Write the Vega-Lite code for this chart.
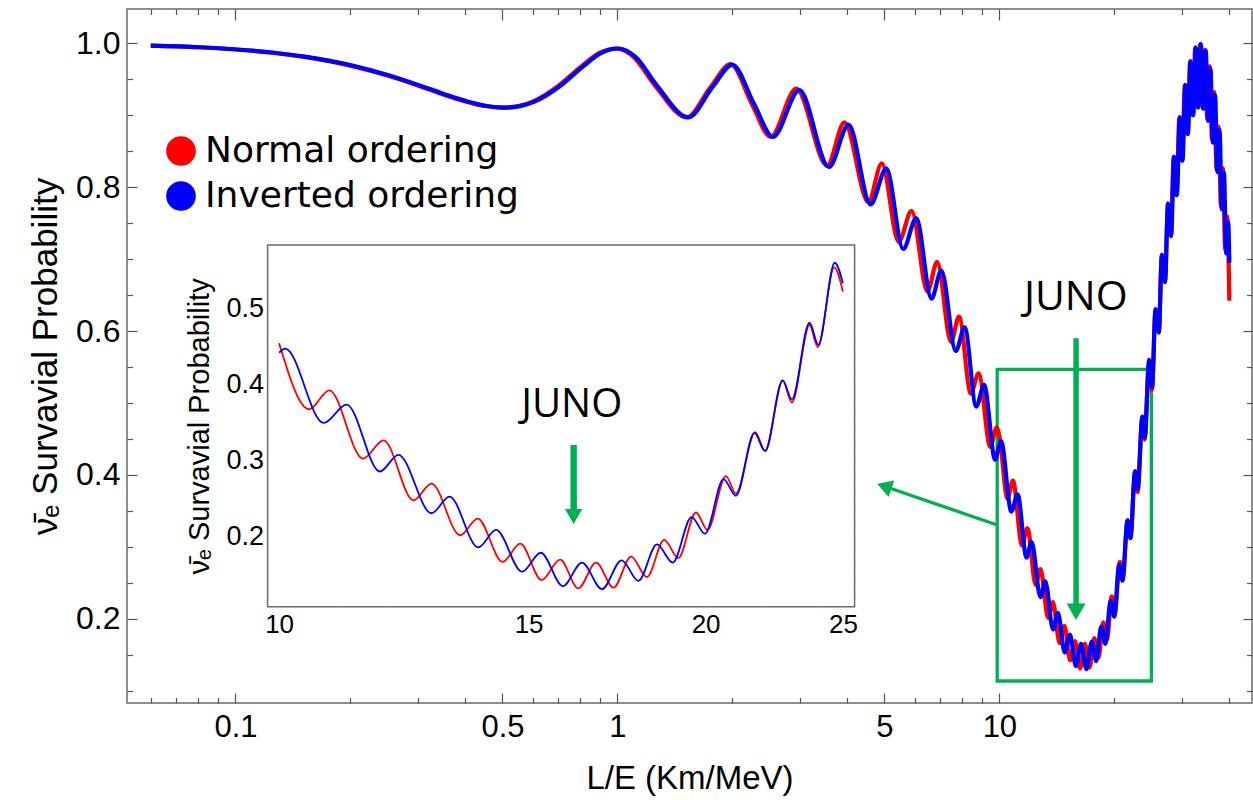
{
  "$schema": "https://vega.github.io/schema/vega-lite/v6.json",
  "width": 1125,
  "height": 694,
  "autosize": "none",
  "padding": {"left": 127, "top": 9, "right": 1, "bottom": 97},
  "background": "white",
  "config": {
    "view": {"stroke": "#6a6a6a", "strokeWidth": 1.5},
    "axis": {"grid": false, "domain": false, "tickColor": "#555555", "tickWidth": 1.2, "labelColor": "#000000", "labelFont": "Liberation Sans", "titleFont": "Liberation Sans", "titleFontWeight": "normal", "titleColor": "#000000", "labelFlush": false, "labelOverlap": false, "labelBound": false}
  },
  "datasets": {
    "curve": [
      {"le":0.06,"p":0.9967,"o":"N"},{"le":0.08,"p":0.9945,"o":"N"},{"le":0.1,"p":0.9914,"o":"N"},{"le":0.125,"p":0.9869,"o":"N"},{"le":0.15,"p":0.9815,"o":"N"},{"le":0.2,"p":0.969,"o":"N"},{"le":0.25,"p":0.9552,"o":"N"},{"le":0.3,"p":0.9414,"o":"N"},{"le":0.35,"p":0.9289,"o":"N"},{"le":0.4,"p":0.9191,"o":"N"},{"le":0.45,"p":0.9128,"o":"N"},{"le":0.5,"p":0.9106,"o":"N"},{"le":0.55,"p":0.9127,"o":"N"},{"le":0.6,"p":0.919,"o":"N"},{"le":0.7,"p":0.9407,"o":"N"},{"le":0.8,"p":0.9669,"o":"N"},{"le":0.9,"p":0.987,"o":"N"},{"le":0.995,"p":0.9928,"o":"N"},{"le":1.1,"p":0.9813,"o":"N"},{"le":1.25,"p":0.9423,"o":"N"},{"le":1.52,"p":0.897,"o":"N"},{"le":1.75,"p":0.9384,"o":"N"},{"le":1.98,"p":0.971,"o":"N"},{"le":2.25,"p":0.9154,"o":"N"},{"le":2.52,"p":0.87,"o":"N"},{"le":2.94,"p":0.937,"o":"N"},{"le":3.54,"p":0.83,"o":"N"},{"le":3.93,"p":0.89,"o":"N"},{"le":4.54,"p":0.779,"o":"N"},{"le":4.92,"p":0.833,"o":"N"},{"le":5.45,"p":0.724,"o":"N"},{"le":5.89,"p":0.767,"o":"N"},{"le":6.48,"p":0.655,"o":"N"},{"le":6.87,"p":0.696,"o":"N"},{"le":7.47,"p":0.585,"o":"N"},{"le":7.84,"p":0.62,"o":"N"},{"le":8.42,"p":0.513,"o":"N"},{"le":8.82,"p":0.541,"o":"N"},{"le":9.47,"p":0.439,"o":"N"},{"le":9.84,"p":0.466,"o":"N"},{"le":10,"p":0.454,"o":"N"},{"le":10.5,"p":0.367,"o":"N"},{"le":10.85,"p":0.392,"o":"N"},{"le":11.46,"p":0.302,"o":"N"},{"le":11.85,"p":0.326,"o":"N"},{"le":12.44,"p":0.247,"o":"N"},{"le":12.81,"p":0.269,"o":"N"},{"le":13.42,"p":0.201,"o":"N"},{"le":13.81,"p":0.223,"o":"N"},{"le":14.38,"p":0.166,"o":"N"},{"le":14.8,"p":0.19,"o":"N"},{"le":15.32,"p":0.142,"o":"N"},{"le":15.79,"p":0.169,"o":"N"},{"le":16.26,"p":0.131,"o":"N"},{"le":16.74,"p":0.165,"o":"N"},{"le":17.22,"p":0.132,"o":"N"},{"le":17.72,"p":0.173,"o":"N"},{"le":18.18,"p":0.146,"o":"N"},{"le":18.7,"p":0.195,"o":"N"},{"le":19.13,"p":0.171,"o":"N"},{"le":19.69,"p":0.231,"o":"N"},{"le":20.06,"p":0.208,"o":"N"},{"le":20.67,"p":0.279,"o":"N"},{"le":21.01,"p":0.256,"o":"N"},{"le":21.68,"p":0.337,"o":"N"},{"le":22.03,"p":0.312,"o":"N"},{"le":22.67,"p":0.405,"o":"N"},{"le":23.01,"p":0.376,"o":"N"},{"le":23.68,"p":0.478,"o":"N"},{"le":24,"p":0.449,"o":"N"},{"le":24.65,"p":0.554,"o":"N"},{"le":25,"p":0.522,"o":"N"},{"le":25.1,"p":0.518,"o":"N"},{"le":25.64,"p":0.63,"o":"N"},{"le":26.14,"p":0.598,"o":"N"},{"le":26.63,"p":0.706,"o":"N"},{"le":27.13,"p":0.668,"o":"N"},{"le":27.62,"p":0.777,"o":"N"},{"le":28.12,"p":0.732,"o":"N"},{"le":28.61,"p":0.842,"o":"N"},{"le":29.1,"p":0.789,"o":"N"},{"le":29.6,"p":0.897,"o":"N"},{"le":30.09,"p":0.837,"o":"N"},{"le":30.59,"p":0.942,"o":"N"},{"le":31.08,"p":0.874,"o":"N"},{"le":31.58,"p":0.975,"o":"N"},{"le":32.07,"p":0.9,"o":"N"},{"le":32.56,"p":0.994,"o":"N"},{"le":33.06,"p":0.911,"o":"N"},{"le":33.55,"p":0.999,"o":"N"},{"le":34.05,"p":0.91,"o":"N"},{"le":34.54,"p":0.991,"o":"N"},{"le":35.04,"p":0.894,"o":"N"},{"le":35.53,"p":0.968,"o":"N"},{"le":36.03,"p":0.866,"o":"N"},{"le":36.52,"p":0.932,"o":"N"},{"le":37.02,"p":0.825,"o":"N"},{"le":37.51,"p":0.884,"o":"N"},{"le":38.01,"p":0.774,"o":"N"},{"le":38.5,"p":0.826,"o":"N"},{"le":39,"p":0.714,"o":"N"},{"le":39.49,"p":0.759,"o":"N"},{"le":40,"p":0.642,"o":"N"},
      {"le":0.06,"p":0.9967,"o":"I"},{"le":0.0809,"p":0.9945,"o":"I"},{"le":0.1012,"p":0.9914,"o":"I"},{"le":0.1264,"p":0.9869,"o":"I"},{"le":0.1517,"p":0.9815,"o":"I"},{"le":0.2023,"p":0.969,"o":"I"},{"le":0.2529,"p":0.9552,"o":"I"},{"le":0.3035,"p":0.9414,"o":"I"},{"le":0.354,"p":0.9289,"o":"I"},{"le":0.4046,"p":0.9191,"o":"I"},{"le":0.4552,"p":0.9128,"o":"I"},{"le":0.5058,"p":0.9106,"o":"I"},{"le":0.5563,"p":0.9127,"o":"I"},{"le":0.6069,"p":0.919,"o":"I"},{"le":0.708,"p":0.9407,"o":"I"},{"le":0.8092,"p":0.9669,"o":"I"},{"le":0.9104,"p":0.987,"o":"I"},{"le":1.006,"p":0.9928,"o":"I"},{"le":1.115,"p":0.9813,"o":"I"},{"le":1.265,"p":0.9423,"o":"I"},{"le":1.535,"p":0.897,"o":"I"},{"le":1.77,"p":0.9384,"o":"I"},{"le":2.0,"p":0.97,"o":"I"},{"le":2.28,"p":0.9154,"o":"I"},{"le":2.555,"p":0.87,"o":"I"},{"le":2.995,"p":0.935,"o":"I"},{"le":3.58,"p":0.828,"o":"I"},{"le":4.03,"p":0.887,"o":"I"},{"le":4.6,"p":0.776,"o":"I"},{"le":5.06,"p":0.826,"o":"I"},{"le":5.6,"p":0.714,"o":"I"},{"le":6.06,"p":0.757,"o":"I"},{"le":6.64,"p":0.645,"o":"I"},{"le":7.05,"p":0.684,"o":"I"},{"le":7.69,"p":0.572,"o":"I"},{"le":8.11,"p":0.605,"o":"I"},{"le":8.7,"p":0.495,"o":"I"},{"le":9.12,"p":0.525,"o":"I"},{"le":9.75,"p":0.421,"o":"I"},{"le":10,"p":0.4415,"o":"I"},{"le":10.1,"p":0.447,"o":"I"},{"le":10.75,"p":0.349,"o":"I"},{"le":11.16,"p":0.373,"o":"I"},{"le":11.78,"p":0.285,"o":"I"},{"le":12.14,"p":0.307,"o":"I"},{"le":12.81,"p":0.23,"o":"I"},{"le":13.19,"p":0.252,"o":"I"},{"le":13.82,"p":0.185,"o":"I"},{"le":14.23,"p":0.208,"o":"I"},{"le":14.84,"p":0.153,"o":"I"},{"le":15.3,"p":0.178,"o":"I"},{"le":15.86,"p":0.134,"o":"I"},{"le":16.36,"p":0.165,"o":"I"},{"le":16.9,"p":0.13,"o":"I"},{"le":17.45,"p":0.168,"o":"I"},{"le":17.93,"p":0.141,"o":"I"},{"le":18.48,"p":0.189,"o":"I"},{"le":18.96,"p":0.165,"o":"I"},{"le":19.55,"p":0.225,"o":"I"},{"le":19.98,"p":0.203,"o":"I"},{"le":20.59,"p":0.275,"o":"I"},{"le":21.01,"p":0.253,"o":"I"},{"le":21.65,"p":0.336,"o":"I"},{"le":22.03,"p":0.312,"o":"I"},{"le":22.67,"p":0.405,"o":"I"},{"le":23.01,"p":0.38,"o":"I"},{"le":23.68,"p":0.481,"o":"I"},{"le":24.02,"p":0.452,"o":"I"},{"le":24.67,"p":0.56,"o":"I"},{"le":25,"p":0.533,"o":"I"},{"le":25.09,"p":0.522,"o":"I"},{"le":25.64,"p":0.63,"o":"I"},{"le":26.15,"p":0.598,"o":"I"},{"le":26.645,"p":0.706,"o":"I"},{"le":27.15,"p":0.668,"o":"I"},{"le":27.65,"p":0.777,"o":"I"},{"le":28.16,"p":0.732,"o":"I"},{"le":28.66,"p":0.842,"o":"I"},{"le":29.16,"p":0.789,"o":"I"},{"le":29.67,"p":0.897,"o":"I"},{"le":30.17,"p":0.837,"o":"I"},{"le":30.68,"p":0.942,"o":"I"},{"le":31.17,"p":0.874,"o":"I"},{"le":31.68,"p":0.975,"o":"I"},{"le":32.18,"p":0.9,"o":"I"},{"le":32.68,"p":0.994,"o":"I"},{"le":33.19,"p":0.911,"o":"I"},{"le":33.69,"p":0.999,"o":"I"},{"le":34.2,"p":0.909,"o":"I"},{"le":34.7,"p":0.99,"o":"I"},{"le":35.2,"p":0.892,"o":"I"},{"le":35.7,"p":0.965,"o":"I"},{"le":36.21,"p":0.862,"o":"I"},{"le":36.71,"p":0.928,"o":"I"},{"le":37.22,"p":0.821,"o":"I"},{"le":37.72,"p":0.879,"o":"I"},{"le":38.23,"p":0.769,"o":"I"},{"le":38.73,"p":0.82,"o":"I"},{"le":39.23,"p":0.708,"o":"I"},{"le":39.73,"p":0.751,"o":"I"},{"le":40,"p":0.695,"o":"I"}
    ],
    "mainbox": [{"x1": 9.87, "x2": 25.0, "y1": 0.1134, "y2": 0.5467}],
    "mainvert": [{"x": 15.88, "y": 0.59, "y2": 0.215}],
    "mainheadv": [{"x": 15.88, "y": 0.2096}],
    "maindiag": [{"x": 9.87, "y": 0.3303, "x2": 5.0, "y2": 0.3841}],
    "mainheadd": [{"x": 4.997, "y": 0.3841}],
    "mainlabel": [{"x": 15.85, "y": 0.6458, "t": "JUNO"}],
    "insetframe": [{"x1": 9.815, "x2": 25.48, "y1": 0.1069, "y2": 0.5834}],
    "insetshaft": [{"x": 16.14, "y": 0.32, "y2": 0.232}],
    "insethead": [{"x": 16.14, "y": 0.2256}],
    "insetlabel": [{"x": 16.09, "y": 0.3726, "t": "JUNO"}]
  },
  "layer": [
    {
      "layer": [
        {
          "data": {"name": "mainbox"},
          "mark": {"type": "rect", "filled": false, "stroke": "#00b050", "strokeWidth": 3.3},
          "encoding": {
            "x": {"field": "x1", "type": "quantitative", "scale": {"type": "log", "domain": [0.052, 45.86], "nice": false},
                  "axis": {"orient": "bottom", "values": [0.06,0.07,0.08,0.09,0.2,0.3,0.4,0.6,0.7,0.8,0.9,2,3,4,6,7,8,9,20,30,40], "labels": false, "tickSize": -5.5, "title": null}},
            "x2": {"field": "x2"},
            "y": {"field": "y1", "type": "quantitative", "scale": {"domain": [0.0828, 1.0477], "nice": false, "zero": false},
                  "axis": {"orient": "left", "values": [0.1,0.15,0.25,0.3,0.35,0.45,0.5,0.55,0.65,0.7,0.75,0.85,0.9,0.95], "labels": false, "tickSize": -5.5, "title": null}},
            "y2": {"field": "y2"}
          }
        },
        {
          "data": {"name": "curve"},
          "transform": [{"filter": "datum.o === 'N'"}],
          "mark": {"type": "line", "strokeWidth": 4.2, "interpolate": "monotone"},
          "encoding": {
            "x": {"field": "le", "type": "quantitative", "scale": {"type": "log", "domain": [0.052, 45.86], "nice": false},
                  "axis": {"orient": "bottom", "values": [0.1,0.5,1,5,10], "format": "~g", "tickSize": -10, "labelFontSize": 31, "labelPadding": 19, "title": "L/E (Km/MeV)", "titleFontSize": 33, "titlePadding": 20}},
            "y": {"field": "p", "type": "quantitative", "scale": {"domain": [0.0828, 1.0477], "nice": false, "zero": false},
                  "axis": {"orient": "left", "values": [0.2,0.4,0.6,0.8,1.0], "format": ".1f", "tickSize": -10, "labelFontSize": 32, "labelPadding": 17, "title": "\u03bd\u0304\u2091 Survavial Probability", "titleFontSize": 35, "titlePadding": 12}},
            "color": {"field": "o", "type": "nominal",
                      "scale": {"domain": ["N", "I"], "range": ["#ff0000", "#0000ff"]},
                      "legend": {"orient": "none", "legendX": 36, "legendY": 124, "title": null, "padding": 0, "symbolType": "circle", "symbolSize": 740, "symbolStrokeWidth": 2.5, "labelFont": "DejaVu Sans", "labelFontSize": 36, "labelColor": "#000000", "labelOffset": 6, "rowPadding": 7, "labelLimit": 500,
                                 "labelExpr": "datum.value === 'N' ? 'Normal ordering' : 'Inverted ordering'",
                                 "encode": {"symbols": {"update": {"fill": {"scale": "color", "field": "value"}, "stroke": {"signal": "datum.value === 'N' ? '#b30000' : '#0d2a78'"}, "strokeWidth": {"value": 2.5}, "opacity": {"value": 1}}}}}}
          }
        },
        {
          "data": {"name": "curve"},
          "transform": [{"filter": "datum.o === 'I'"}],
          "mark": {"type": "line", "strokeWidth": 4.2, "interpolate": "monotone"},
          "encoding": {
            "x": {"field": "le", "type": "quantitative", "scale": {"type": "log", "domain": [0.052, 45.86], "nice": false}, "axis": null},
            "y": {"field": "p", "type": "quantitative", "scale": {"domain": [0.0828, 1.0477], "nice": false, "zero": false}, "axis": null},
            "color": {"field": "o", "type": "nominal",
                      "scale": {"domain": ["N", "I"], "range": ["#ff0000", "#0000ff"]},
                      "legend": {"orient": "none", "legendX": 36, "legendY": 124, "title": null, "padding": 0, "symbolType": "circle", "symbolSize": 740, "symbolStrokeWidth": 2.5, "labelFont": "DejaVu Sans", "labelFontSize": 36, "labelColor": "#000000", "labelOffset": 6, "rowPadding": 7, "labelLimit": 500,
                                 "labelExpr": "datum.value === 'N' ? 'Normal ordering' : 'Inverted ordering'",
                                 "encode": {"symbols": {"update": {"fill": {"scale": "color", "field": "value"}, "stroke": {"signal": "datum.value === 'N' ? '#b30000' : '#0d2a78'"}, "strokeWidth": {"value": 2.5}, "opacity": {"value": 1}}}}}}
          }
        },
        {
          "data": {"name": "mainvert"},
          "mark": {"type": "rule", "color": "#00b050", "strokeWidth": 5.5},
          "encoding": {
            "x": {"field": "x", "type": "quantitative", "scale": {"type": "log", "domain": [0.052, 45.86], "nice": false},
                  "axis": {"orient": "top", "values": [0.1,0.5,1,5,10], "labels": false, "tickSize": -11, "title": null}},
            "y": {"field": "y", "type": "quantitative", "scale": {"domain": [0.0828, 1.0477], "nice": false, "zero": false},
                  "axis": {"orient": "right", "values": [0.2,0.4,0.6,0.8,1.0], "labels": false, "tickSize": -9, "title": null}},
            "y2": {"field": "y2"}
          }
        },
        {
          "data": {"name": "maindiag"},
          "mark": {"type": "rule", "color": "#00b050", "strokeWidth": 3.3},
          "encoding": {
            "x": {"field": "x", "type": "quantitative", "scale": {"type": "log", "domain": [0.052, 45.86], "nice": false},
                  "axis": {"orient": "top", "values": [0.06,0.07,0.08,0.09,0.2,0.3,0.4,0.6,0.7,0.8,0.9,2,3,4,6,7,8,9,20,30,40], "labels": false, "tickSize": -5.5, "title": null}},
            "x2": {"field": "x2"},
            "y": {"field": "y", "type": "quantitative", "scale": {"domain": [0.0828, 1.0477], "nice": false, "zero": false},
                  "axis": {"orient": "right", "values": [0.1,0.15,0.25,0.3,0.35,0.45,0.5,0.55,0.65,0.7,0.75,0.85,0.9,0.95], "labels": false, "tickSize": -5.5, "title": null}},
            "y2": {"field": "y2"}
          }
        },
        {
          "data": {"name": "mainheadv"},
          "mark": {"type": "point", "shape": "triangle-down", "size": 360, "filled": true, "color": "#00b050", "opacity": 1},
          "encoding": {
            "x": {"field": "x", "type": "quantitative", "scale": {"type": "log", "domain": [0.052, 45.86], "nice": false}, "axis": null},
            "y": {"field": "y", "type": "quantitative", "scale": {"domain": [0.0828, 1.0477], "nice": false, "zero": false}, "axis": null}
          }
        },
        {
          "data": {"name": "mainheadd"},
          "mark": {"type": "point", "shape": "triangle-right", "angle": 199, "size": 300, "filled": true, "color": "#00b050", "opacity": 1},
          "encoding": {
            "x": {"field": "x", "type": "quantitative", "scale": {"type": "log", "domain": [0.052, 45.86], "nice": false}, "axis": null},
            "y": {"field": "y", "type": "quantitative", "scale": {"domain": [0.0828, 1.0477], "nice": false, "zero": false}, "axis": null}
          }
        },
        {
          "data": {"name": "mainlabel"},
          "mark": {"type": "text", "font": "Open Sans", "fontSize": 41, "color": "#000000", "align": "center", "baseline": "middle"},
          "encoding": {
            "x": {"field": "x", "type": "quantitative", "scale": {"type": "log", "domain": [0.052, 45.86], "nice": false}, "axis": null},
            "y": {"field": "y", "type": "quantitative", "scale": {"domain": [0.0828, 1.0477], "nice": false, "zero": false}, "axis": null},
            "text": {"field": "t"}
          }
        }
      ],
      "resolve": {"axis": {"x": "independent", "y": "independent"}}
    },
    {
      "layer": [
        {
          "data": {"name": "insetframe"},
          "mark": {"type": "rect", "fill": "#ffffff", "stroke": "#6a6a6a", "strokeWidth": 1.5},
          "encoding": {
            "x": {"field": "x1", "type": "quantitative", "scale": {"type": "log", "domain": [9.815, 25.48], "range": [140.6, 727.6], "nice": false},
                  "axis": {"orient": "bottom", "offset": -96.3, "values": [11,12,13,14,16,17,18,19,21,22,23,24], "labels": false, "tickSize": -3.5, "title": null}},
            "x2": {"field": "x2"},
            "y": {"field": "y1", "type": "quantitative", "scale": {"domain": [0.1069, 0.5834], "range": [597.7, 236], "nice": false, "zero": false},
                  "axis": {"orient": "left", "offset": -140.6, "values": [0.12,0.14,0.16,0.18,0.22,0.24,0.26,0.28,0.32,0.34,0.36,0.38,0.42,0.44,0.46,0.48,0.52,0.54,0.56,0.58], "labels": false, "tickSize": -3.5, "title": null}},
            "y2": {"field": "y2"}
          }
        },
        {
          "data": {"name": "curve"},
          "transform": [{"filter": "datum.o === 'N' && datum.le >= 10 && datum.le <= 25"}],
          "mark": {"type": "line", "stroke": "#ff0000", "strokeWidth": 1.8, "interpolate": "monotone"},
          "encoding": {
            "x": {"field": "le", "type": "quantitative", "scale": {"type": "log", "domain": [9.815, 25.48], "range": [140.6, 727.6], "nice": false},
                  "axis": {"orient": "bottom", "offset": -96.3, "values": [10,15,20,25], "format": "d", "tickSize": -6.5, "labelFontSize": 26, "labelPadding": 11, "title": null}},
            "y": {"field": "p", "type": "quantitative", "scale": {"domain": [0.1069, 0.5834], "range": [597.7, 236], "nice": false, "zero": false},
                  "axis": {"orient": "left", "offset": -140.6, "values": [0.2,0.3,0.4,0.5], "format": ".1f", "tickSize": -6.5, "labelFontSize": 27, "labelPadding": 10.5, "title": "\u03bd\u0304\u2091 Survavial Probability", "titleFontSize": 29, "titlePadding": 12}}
          }
        },
        {
          "data": {"name": "curve"},
          "transform": [{"filter": "datum.o === 'I' && datum.le >= 10 && datum.le <= 25"}],
          "mark": {"type": "line", "stroke": "#0000ff", "strokeWidth": 1.8, "interpolate": "monotone"},
          "encoding": {
            "x": {"field": "le", "type": "quantitative", "scale": {"type": "log", "domain": [9.815, 25.48], "range": [140.6, 727.6], "nice": false}, "axis": null},
            "y": {"field": "p", "type": "quantitative", "scale": {"domain": [0.1069, 0.5834], "range": [597.7, 236], "nice": false, "zero": false}, "axis": null}
          }
        },
        {
          "data": {"name": "insetshaft"},
          "mark": {"type": "rule", "color": "#00b050", "strokeWidth": 6.5},
          "encoding": {
            "x": {"field": "x", "type": "quantitative", "scale": {"type": "log", "domain": [9.815, 25.48], "range": [140.6, 727.6], "nice": false},
                  "axis": {"orient": "top", "offset": -236, "values": [10,15,20,25], "labels": false, "tickSize": -6.5, "title": null}},
            "y": {"field": "y", "type": "quantitative", "scale": {"domain": [0.1069, 0.5834], "range": [597.7, 236], "nice": false, "zero": false},
                  "axis": {"orient": "right", "offset": -397.4, "values": [0.2,0.3,0.4,0.5], "labels": false, "tickSize": -6.5, "title": null}},
            "y2": {"field": "y2"}
          }
        },
        {
          "data": {"name": "insethead"},
          "mark": {"type": "point", "shape": "triangle-down", "size": 300, "filled": true, "color": "#00b050", "opacity": 1},
          "encoding": {
            "x": {"field": "x", "type": "quantitative", "scale": {"type": "log", "domain": [9.815, 25.48], "range": [140.6, 727.6], "nice": false},
                  "axis": {"orient": "top", "offset": -236, "values": [11,12,13,14,16,17,18,19,21,22,23,24], "labels": false, "tickSize": -3.5, "title": null}},
            "y": {"field": "y", "type": "quantitative", "scale": {"domain": [0.1069, 0.5834], "range": [597.7, 236], "nice": false, "zero": false},
                  "axis": {"orient": "right", "offset": -397.4, "values": [0.12,0.14,0.16,0.18,0.22,0.24,0.26,0.28,0.32,0.34,0.36,0.38,0.42,0.44,0.46,0.48,0.52,0.54,0.56,0.58], "labels": false, "tickSize": -3.5, "title": null}}
          }
        },
        {
          "data": {"name": "insetlabel"},
          "mark": {"type": "text", "font": "Open Sans", "fontSize": 40, "color": "#000000", "align": "center", "baseline": "middle"},
          "encoding": {
            "x": {"field": "x", "type": "quantitative", "scale": {"type": "log", "domain": [9.815, 25.48], "range": [140.6, 727.6], "nice": false}, "axis": null},
            "y": {"field": "y", "type": "quantitative", "scale": {"domain": [0.1069, 0.5834], "range": [597.7, 236], "nice": false, "zero": false}, "axis": null},
            "text": {"field": "t"}
          }
        }
      ],
      "resolve": {"axis": {"x": "independent", "y": "independent"}}
    }
  ],
  "resolve": {"scale": {"x": "independent", "y": "independent"}}
}
